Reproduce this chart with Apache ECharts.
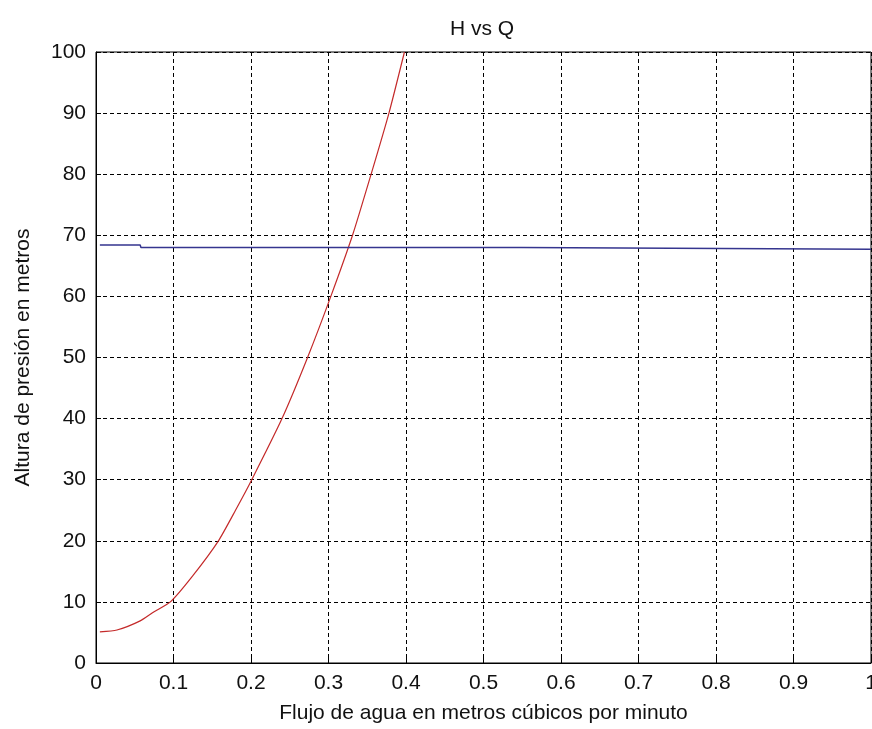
<!DOCTYPE html>
<html>
<head>
<meta charset="utf-8">
<title>H vs Q</title>
<script src="https://cdn.jsdelivr.net/npm/echarts@6/dist/echarts.min.js"></script>
<style>
  html, body { margin: 0; padding: 0; background: #fff; }
  #chart { width: 872px; height: 729px; }
</style>
</head>
<body>
<div id="chart"></div>
<script>
// curva del sistema (roja): caudal vs altura
const flowSystem = [0.005, 0.027, 0.057, 0.075, 0.096, 0.125, 0.158, 0.18, 0.201, 0.240, 0.273, 0.303, 0.331, 0.355, 0.378, 0.398]
const headSystem = [5.1, 5.4, 6.9, 8.4, 10, 14.3, 20, 25, 30, 40, 50, 60, 70, 80, 90, 100]

// curva de la bomba (azul): casi constante
const flowPump = [0.005, 0.057, 0.058, 0.549, 0.55, 1.0]
const headPump = [68.4, 68.4, 68.0, 68.0, 67.7, 67.7]

const FONT = 'Liberation Sans, Arial, sans-serif'

const chart = echarts.init(document.getElementById('chart'), null, { renderer: 'canvas' })

const toPairs = (xs, ys) => xs.map((x, i) => [x, ys[i]])

const option = {
  backgroundColor: '#fff',
  animation: false,
  title: {
    text: 'H vs Q',
    left: 445,
    top: 14,
    textStyle: { fontFamily: FONT, fontSize: 21, fontWeight: 'normal', color: '#111' }
  },
  grid: {
    left: 96,
    right: 1,
    top: 52,
    bottom: 66,
    outerBoundsMode: 'none',
    containLabel: false,
    show: true,
    borderColor: '#000',
    borderWidth: 1,
    backgroundColor: '#fff'
  },
  xAxis: {
    type: 'value',
    min: 0,
    max: 1,
    interval: 0.1,
    name: 'Flujo de agua en metros cúbicos por minuto',
    nameLocation: 'middle',
    nameGap: 40,
    nameTextStyle: { fontFamily: FONT, fontSize: 21, color: '#111' },
    axisLine: { show: true, lineStyle: { color: '#000', width: 1 } },
    axisTick: { show: true, inside: true, length: 5, lineStyle: { color: '#000' } },
    axisLabel: { fontFamily: FONT, fontSize: 21, color: '#111', margin: 10 },
    splitLine: { show: true, lineStyle: { color: '#000', type: [4, 3], width: 1 } }
  },
  yAxis: {
    type: 'value',
    min: 0,
    max: 100,
    interval: 10,
    name: 'Altura de presión en metros',
    nameLocation: 'middle',
    nameGap: 62,
    nameTextStyle: { fontFamily: FONT, fontSize: 21, color: '#111' },
    axisLine: { show: true, lineStyle: { color: '#000', width: 1 } },
    axisTick: { show: true, inside: true, length: 5, lineStyle: { color: '#000' } },
    axisLabel: { fontFamily: FONT, fontSize: 21, color: '#111', margin: 10 },
    splitLine: { show: true, lineStyle: { color: '#000', type: [4, 3], width: 1 } }
  },
  series: [
    {
      name: 'Sistema',
      type: 'line',
      data: toPairs(flowSystem, headSystem),
      showSymbol: false,
      smooth: 0.2,
      clip: true,
      lineStyle: { color: '#c42a2a', width: 1.2 }
    },
    {
      name: 'Bomba',
      type: 'line',
      data: toPairs(flowPump, headPump),
      showSymbol: false,
      clip: true,
      lineStyle: { color: '#35358f', width: 1.5 }
    }
  ]
}

chart.setOption(option)
</script>
</body>
</html>
